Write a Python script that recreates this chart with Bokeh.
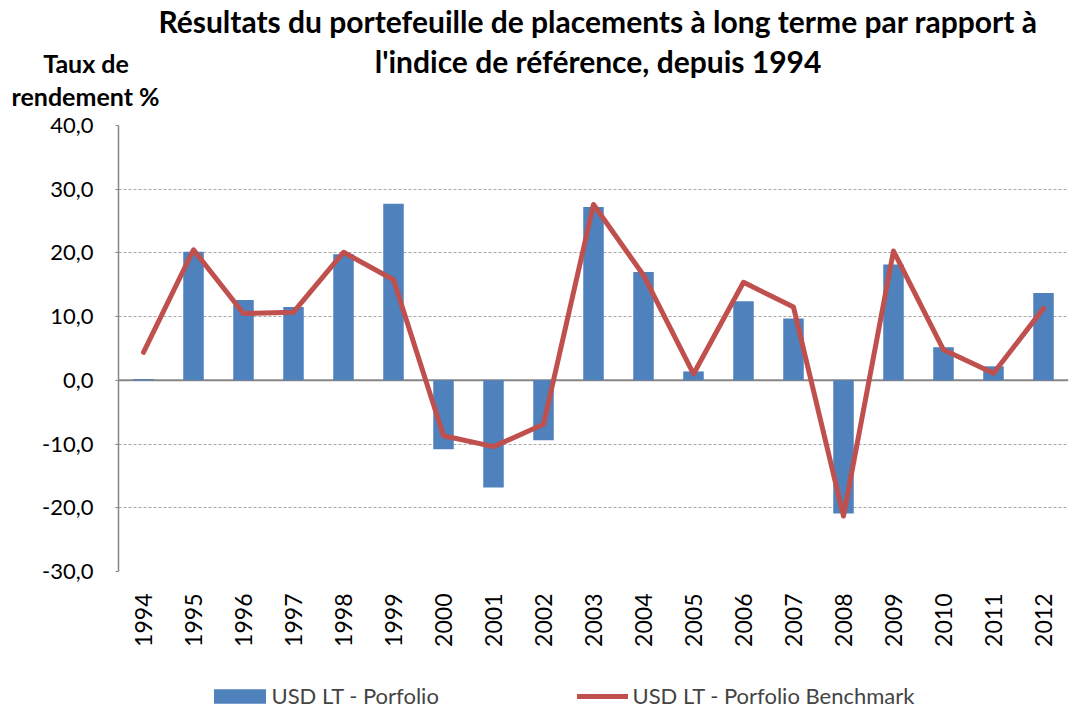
from bokeh.plotting import figure
from bokeh.models import (FactorRange, FixedTicker, Legend, LegendItem, Span, Range1d)
from bokeh.layouts import column
from bokeh.core.properties import value
from bokeh.embed import file_html
from bokeh.resources import INLINE
from math import pi

years = [str(y) for y in range(1994, 2013)]
portfolio = [0.2, 20.2, 12.6, 11.5, 19.8, 27.7, -10.8, -16.8, -9.4, 27.2, 17.0, 1.4, 12.4, 9.7, -20.9, 18.2, 5.2, 2.2, 13.7]
benchmark = [4.4, 20.5, 10.5, 10.7, 20.1, 15.8, -8.7, -10.4, -6.9, 27.6, 16.5, 1.0, 15.4, 11.5, -21.3, 20.3, 4.8, 1.1, 11.3]
y_ticks = [-30, -20, -10, 0, 10, 20, 30, 40]
y_tick_labels = [f"{t:.1f}".replace(".", ",") for t in y_ticks]
title_lines = ["Résultats du portefeuille de placements à long terme par rapport à",
               "l'indice de référence, depuis 1994"]
ylabel_lines = ["Taux de", "rendement %"]
series_names = ["USD LT - Porfolio", "USD LT - Porfolio Benchmark"]

FONT = "Lato"
BLUE = "#4F81BD"
RED = "#C0504D"
W = 1070
TOTAL_H = 709
HEAD_H = 112
FOOT_H = 30
FRAME_TOP, FRAME_BOTTOM = 125, 571
MAIN_H = TOTAL_H - HEAD_H - FOOT_H

# ---------- header (title + y-axis caption) ----------
head = figure(width=W, height=HEAD_H, x_range=Range1d(0, W), y_range=Range1d(HEAD_H, 0),
              x_axis_location=None, y_axis_location=None, output_backend="svg",
              toolbar_location=None, tools="", min_border=0, title=None, frame_align=False)
head.outline_line_color = None
head.grid.visible = False
head.text(x=[597.5, 597.5], y=[20.5, 60], text=title_lines, text_align="center",
          text_baseline="alphabetic", text_font=value(FONT), text_font_style="bold",
          text_font_size="30px", text_color="black")
head.text(x=[85.5, 85], y=[62, 95], text=ylabel_lines, text_align="center",
          text_baseline="alphabetic", text_font=value(FONT), text_font_style="bold",
          text_font_size="25px", text_color="black")

# ---------- main chart ----------
p = figure(width=W, height=MAIN_H, x_range=FactorRange(*years, range_padding=0),
           y_range=Range1d(-30, 40), output_backend="svg", toolbar_location=None, tools="",
           title=None, min_border_left=118, min_border_right=2,
           min_border_top=FRAME_TOP - HEAD_H,
           min_border_bottom=MAIN_H - (FRAME_BOTTOM - HEAD_H), frame_align=False)
p.outline_line_color = None

bars = p.vbar(x=years, top=portfolio, bottom=0, width=0.41, fill_color=BLUE, line_color=None)
p.add_layout(Span(location=0, dimension="width", line_color="#868686", line_width=2, level="underlay"))
line = p.line(x=years, y=benchmark, line_color=RED, line_width=5, line_join="round", line_cap="round")

p.yaxis.ticker = FixedTicker(ticks=y_ticks)
p.yaxis.major_label_overrides = {t: l for t, l in zip(y_ticks, y_tick_labels)}
p.yaxis.axis_line_color = "#868686"
p.yaxis.axis_line_width = 1.5
p.yaxis.major_tick_line_color = "#868686"
p.yaxis.major_tick_out = 3
p.yaxis.major_tick_in = 0
p.yaxis.minor_tick_line_color = None
p.yaxis.major_label_standoff = 22
p.yaxis.major_label_text_font = FONT
p.yaxis.major_label_text_font_size = "22px"
p.yaxis.major_label_text_color = "black"

p.xaxis.axis_line_color = None
p.xaxis.major_tick_line_color = None
p.xaxis.minor_tick_line_color = None
p.xaxis.major_label_orientation = pi / 2
p.xaxis.major_label_standoff = 16
p.xaxis.major_label_text_font = FONT
p.xaxis.major_label_text_font_size = "23px"
p.xaxis.major_label_text_color = "black"

p.xgrid.grid_line_color = None
p.ygrid.grid_line_color = "#A6A6A6"
p.ygrid.grid_line_dash = "3 2"
p.ygrid.grid_line_width = 1

# ---------- footer (legend; series are re-drawn off-view so the legend has real renderers) ----------
foot = figure(width=W, height=FOOT_H, x_range=FactorRange(*years, range_padding=0),
              y_range=Range1d(1000, 1001), x_axis_location=None, y_axis_location=None,
              output_backend="svg", toolbar_location=None, tools="", min_border=0, title=None,
              frame_align=False)
foot.outline_line_color = None
foot.grid.visible = False
leg_bars = foot.vbar(x=years, top=portfolio, bottom=0, width=0.41, fill_color=BLUE, line_color=None)
leg_line = foot.line(x=years, y=benchmark, line_color=RED, line_width=5, line_cap="round")

leg1 = Legend(items=[LegendItem(label=series_names[0], renderers=[leg_bars])],
              location=(206.5, 0), glyph_width=65, glyph_height=18, label_standoff=0,
              padding=0, margin=0, border_line_color=None, background_fill_alpha=0,
              label_text_font=FONT, label_text_font_size="22px", label_height=24)
leg2 = Legend(items=[LegendItem(label=series_names[1], renderers=[leg_line])],
              location=(576.5, 0), glyph_width=51, glyph_height=18, label_standoff=5,
              padding=0, margin=0, border_line_color=None, background_fill_alpha=0,
              label_text_font=FONT, label_text_font_size="22px", label_height=24)
foot.add_layout(leg1)
foot.add_layout(leg2)

layout = column(head, p, foot, spacing=0)
open("out.html", "w").write(file_html(layout, INLINE))
